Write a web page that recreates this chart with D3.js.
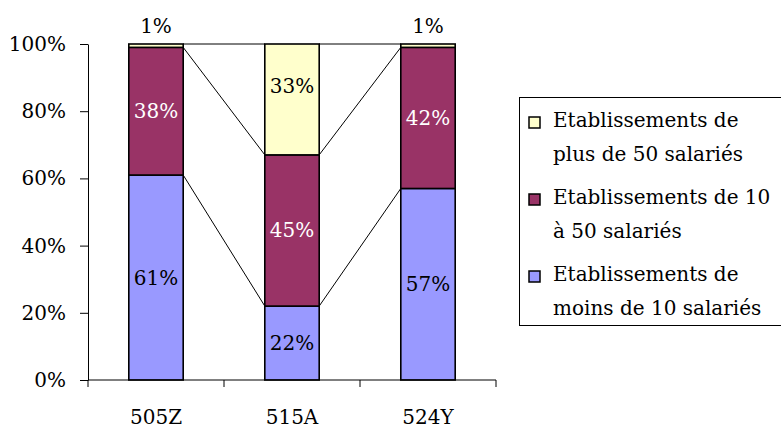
<!DOCTYPE html>
<html><head><meta charset="utf-8">
<script src="https://cdn.jsdelivr.net/npm/d3@7"></script>
<style>body{margin:0;background:#fff}svg{display:block}text{font-family:"DejaVu Serif",serif}</style>
</head><body><svg id="c" width="781" height="430"></svg>
<script>
const categories = ["505Z", "515A", "524Y"];
const seriesNames = ["Etablissements de moins de 10 salariés", "Etablissements de 10 à 50 salariés", "Etablissements de plus de 50 salariés"];
const moins10 = [61, 22, 57];
const de10a50 = [38, 45, 42];
const plus50 = [1, 33, 1];
const yTicks = [0, 20, 40, 60, 80, 100];
const colors = ["#9999FF", "#993366", "#FFFFCC"];
const labelColors = ["#000", "#fff", "#000"];
const legendLines = [["Etablissements de", "plus de 50 salariés"], ["Etablissements de 10", "à 50 salariés"], ["Etablissements de", "moins de 10 salariés"]];
const legendColorIdx = [2, 1, 0];
const FONT = '"DejaVu Serif",serif';
const FS = 20;

const svg = d3.select("#c");
const x = d3.scaleBand().domain(categories).range([88, 496]).paddingInner(0.6).paddingOuter(0.3);
const y = d3.scaleLinear().domain([0, 100]).range([380, 44]);

const data = categories.map((c, i) => ({cat: c, moins10: moins10[i], de10a50: de10a50[i], plus50: plus50[i]}));
const keys = ["moins10", "de10a50", "plus50"];
const stacked = d3.stack().keys(keys)(data);

// series lines
stacked.forEach((s) => {
  for (let i = 0; i < s.length - 1; i++) {
    svg.append("line")
      .attr("x1", x(categories[i]) + x.bandwidth()).attr("y1", y(s[i][1]))
      .attr("x2", x(categories[i + 1])).attr("y2", y(s[i + 1][1]))
      .attr("stroke", "#000").attr("stroke-width", 1);
  }
});

// bars
stacked.forEach((s, si) => {
  svg.append("g").selectAll("rect").data(s).join("rect")
    .attr("x", d => x(d.data.cat)).attr("width", x.bandwidth())
    .attr("y", d => y(d[1])).attr("height", d => y(d[0]) - y(d[1]))
    .attr("fill", colors[si]).attr("stroke", "#000").attr("stroke-width", 1.6);
});

// labels
stacked.forEach((s, si) => {
  s.forEach(d => {
    const v = d[1] - d[0];
    const cx = x(d.data.cat) + x.bandwidth() / 2;
    let yy, col;
    if (v < 5) { yy = y(d[1]) - 11; col = "#000"; }
    else if (si === 2) { yy = y(d[1]) + 49; col = labelColors[si]; }
    else { yy = y((d[0] + d[1]) / 2) + 7; col = labelColors[si]; }
    svg.append("text").attr("x", cx).attr("y", yy).attr("text-anchor", "middle")
      .attr("font-size", FS).attr("fill", col).text(v + "%");
  });
});

// y axis
const yAxis = svg.append("g").attr("transform", "translate(88,0)")
  .call(d3.axisLeft(y).tickValues(yTicks).tickFormat(d => d + "%").tickSize(8).tickSizeOuter(0));
yAxis.select(".domain").attr("stroke", "#000");
yAxis.selectAll("line").attr("stroke", "#000");
yAxis.selectAll("text").attr("font-size", FS).attr("fill", "#000").attr("dx", -11)
  .style("font-family", FONT);

// x axis
const xg = svg.append("g").attr("transform", "translate(0,380)");
xg.append("line").attr("x1", 88).attr("x2", 496).attr("stroke", "#000");
const bounds = [88].concat(categories.map(c => x(c) + x.bandwidth() / 2 + x.step() / 2));
bounds.forEach(b => xg.append("line").attr("x1", b).attr("x2", b).attr("y1", 0).attr("y2", 7).attr("stroke", "#000"));
categories.forEach(c => xg.append("text").attr("x", x(c) + x.bandwidth() / 2).attr("y", 44)
  .attr("text-anchor", "middle").attr("font-size", FS).attr("fill", "#000").text(c));

// legend
const lg = svg.append("g");
lg.append("rect").attr("x", 519.5).attr("y", 97.5).attr("width", 270).attr("height", 228)
  .attr("fill", "#fff").attr("stroke", "#000").attr("stroke-width", 1);
legendLines.forEach((lines, i) => {
  const top = 127 + i * 77;
  lg.append("rect").attr("x", 529).attr("y", top - 10).attr("width", 11).attr("height", 11)
    .attr("fill", colors[legendColorIdx[i]]).attr("stroke", "#000").attr("stroke-width", 1.5);
  lines.forEach((t, j) => lg.append("text").attr("x", 553).attr("y", top + j * 34)
    .attr("font-size", FS).attr("fill", "#000").text(t));
});
</script></body></html>
